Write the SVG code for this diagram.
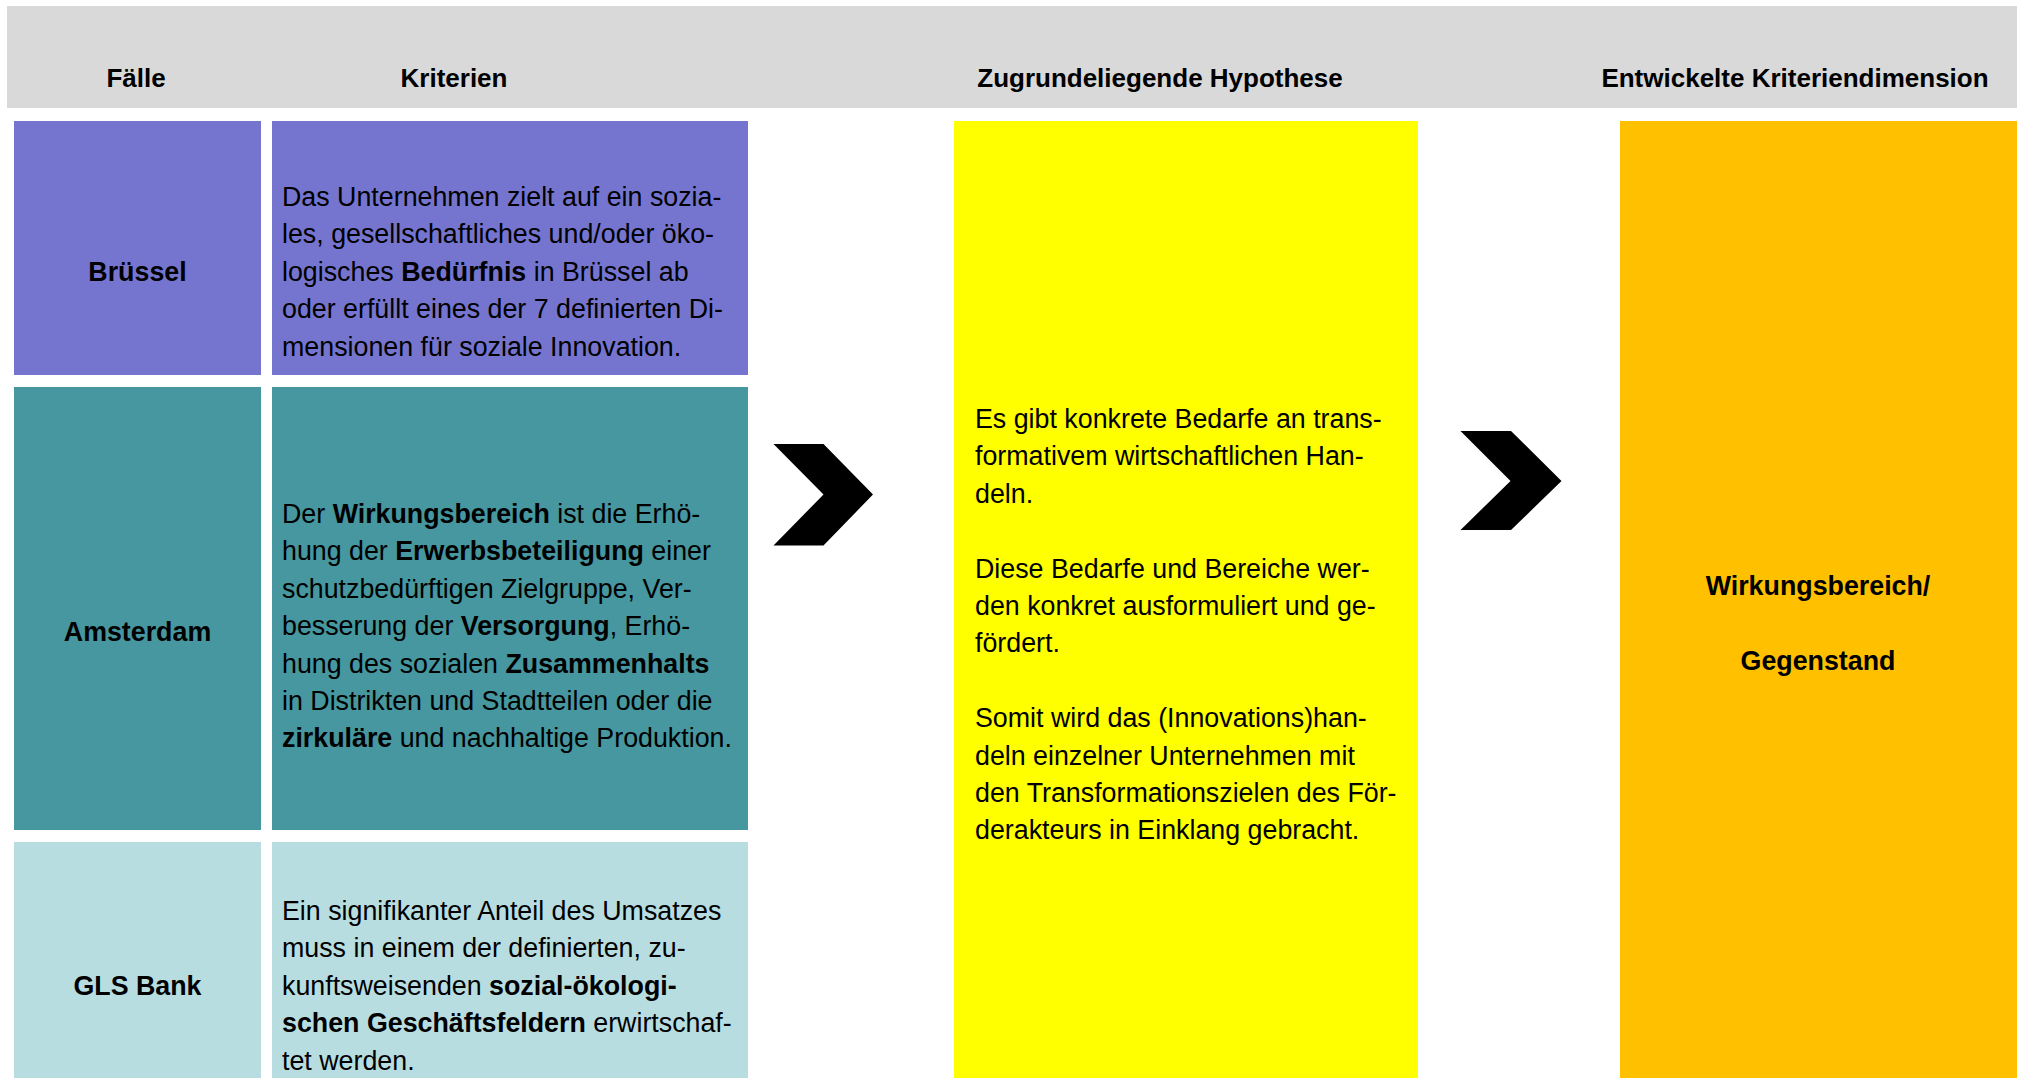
<svg xmlns="http://www.w3.org/2000/svg" width="2022" height="1080" viewBox="0 0 2022 1080">
<style>
  .hd { font-family: "Liberation Sans", Arial, sans-serif; font-size: 26px; font-weight: bold; fill: #000; text-anchor: middle; }
  .lbl { font-family: "Liberation Sans", Arial, sans-serif; font-size: 26.8px; font-weight: bold; fill: #000; text-anchor: middle; }
  .t { font-family: "Liberation Sans", Arial, sans-serif; font-size: 26.8px; fill: #000; }
  .b { font-weight: bold; }
  .dim { font-family: "Liberation Sans", Arial, sans-serif; font-size: 26.8px; font-weight: bold; fill: #000; text-anchor: middle; }
  .p1 { fill: #7575D0; }
  .p2 { fill: #46979F; }
  .p3 { fill: #B8DDE1; }
  .chev { fill: #000; }
</style>
<rect width="2022" height="1080" fill="#FFFFFF"/>
<g id="header">
  <rect x="7" y="6" width="2010" height="102" fill="#D9D9D9"/>
  <text class="hd" x="136" y="87">Fälle</text>
  <text class="hd" x="454" y="87">Kriterien</text>
  <text class="hd" x="1160" y="87">Zugrundeliegende Hypothese</text>
  <text class="hd" x="1795" y="87">Entwickelte Kriteriendimension</text>
</g>
<g id="case-bruessel">
  <rect class="p1" x="14" y="121" width="247" height="254"/>
  <text class="lbl" x="137.5" y="280.8">Brüssel</text>
</g>
<g id="crit-bruessel">
  <rect class="p1" x="272" y="121" width="476" height="254"/>
  <text class="t" x="282" y="206">Das Unternehmen zielt auf ein sozia-</text>
  <text class="t" x="282" y="243.4">les, gesellschaftliches und/oder öko-</text>
  <text class="t" x="282" y="280.8">logisches <tspan class="b">Bedürfnis</tspan> in Brüssel ab</text>
  <text class="t" x="282" y="318.2">oder erfüllt eines der 7 definierten Di-</text>
  <text class="t" x="282" y="355.6">mensionen für soziale Innovation.</text>
</g>
<g id="case-amsterdam">
  <rect class="p2" x="14" y="387" width="247" height="443"/>
  <text class="lbl" x="137.5" y="641">Amsterdam</text>
</g>
<g id="crit-amsterdam">
  <rect class="p2" x="272" y="387" width="476" height="443"/>
  <text class="t" x="282" y="523">Der <tspan class="b">Wirkungsbereich</tspan> ist die Erhö-</text>
  <text class="t" x="282" y="560.4">hung der <tspan class="b">Erwerbsbeteiligung</tspan> einer</text>
  <text class="t" x="282" y="597.8">schutzbedürftigen Zielgruppe, Ver-</text>
  <text class="t" x="282" y="635.2">besserung der <tspan class="b">Versorgung</tspan>, Erhö-</text>
  <text class="t" x="282" y="672.6">hung des sozialen <tspan class="b">Zusammenhalts</tspan></text>
  <text class="t" x="282" y="710">in Distrikten und Stadtteilen oder die</text>
  <text class="t" x="282" y="747.4"><tspan class="b">zirkuläre</tspan> und nachhaltige Produktion.</text>
</g>
<g id="case-gls">
  <rect class="p3" x="14" y="842" width="247" height="236"/>
  <text class="lbl" x="137.5" y="994.8">GLS Bank</text>
</g>
<g id="crit-gls">
  <rect class="p3" x="272" y="842" width="476" height="236"/>
  <text class="t" x="282" y="920">Ein signifikanter Anteil des Umsatzes</text>
  <text class="t" x="282" y="957.4">muss in einem der definierten, zu-</text>
  <text class="t" x="282" y="994.8">kunftsweisenden <tspan class="b">sozial-ökologi-</tspan></text>
  <text class="t" x="282" y="1032.2"><tspan class="b">schen Geschäftsfeldern</tspan> erwirtschaf-</text>
  <text class="t" x="282" y="1069.6">tet werden.</text>
</g>
<g id="hypothesis">
  <rect x="954" y="121" width="464" height="957" fill="#FFFF00"/>
  <text class="t" x="975" y="428">Es gibt konkrete Bedarfe an trans-</text>
  <text class="t" x="975" y="465.4">formativem wirtschaftlichen Han-</text>
  <text class="t" x="975" y="502.8">deln.</text>
  <text class="t" x="975" y="577.6">Diese Bedarfe und Bereiche wer-</text>
  <text class="t" x="975" y="615">den konkret ausformuliert und ge-</text>
  <text class="t" x="975" y="652.4">fördert.</text>
  <text class="t" x="975" y="727.2">Somit wird das (Innovations)han-</text>
  <text class="t" x="975" y="764.6">deln einzelner Unternehmen mit</text>
  <text class="t" x="975" y="802">den Transformationszielen des För-</text>
  <text class="t" x="975" y="839.4">derakteurs in Einklang gebracht.</text>
</g>
<g id="dimension">
  <rect x="1620" y="121" width="397" height="957" fill="#FFC000"/>
  <text class="dim" x="1818" y="595">Wirkungsbereich/</text>
  <text class="dim" x="1818" y="670">Gegenstand</text>
</g>
<g id="connectors">
  <polygon class="chev" points="773.5,444 823.5,444 873,494.5 823.5,545.5 773.5,545.5 823.5,494.5"/>
  <polygon class="chev" points="1460.5,431 1511,431 1561.5,481 1511,530 1460.5,530 1510.5,481"/>
</g>
</svg>
